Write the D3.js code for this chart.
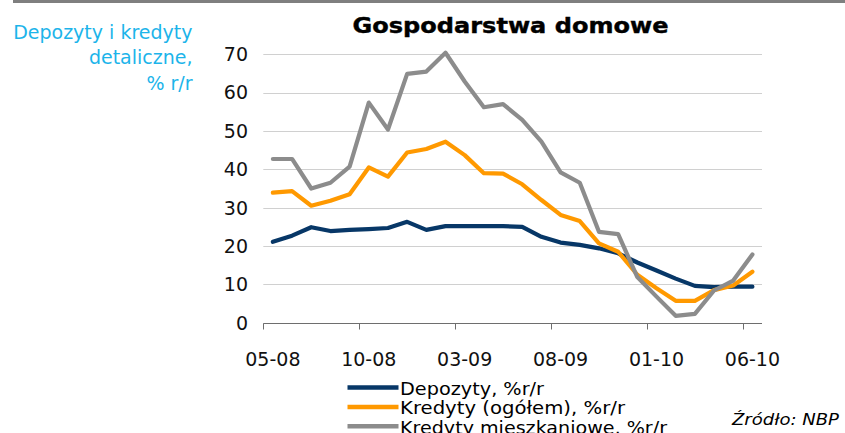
<!DOCTYPE html>
<html>
<head>
<meta charset="utf-8">
<script src="https://cdn.jsdelivr.net/npm/d3@7"></script>
<style>
  body { margin: 0; background: #fff; }
  svg { display: block; }
  text { font-family: "DejaVu Sans", Verdana, sans-serif; }
</style>
</head>
<body>
<svg id="chart" width="845" height="433"></svg>
<script>
// months, MM-YY
var months = ["05-08", "06-08", "07-08", "08-08", "09-08", "10-08", "11-08", "12-08",
  "01-09", "02-09", "03-09", "04-09", "05-09", "06-09", "07-09", "08-09", "09-09",
  "10-09", "11-09", "12-09", "01-10", "02-10", "03-10", "04-10", "05-10", "06-10"];
var shownLabels = ["05-08", "10-08", "03-09", "08-09", "01-10", "06-10"];
var yTicks = [0, 10, 20, 30, 40, 50, 60, 70];

var depozyty = [21.1, 22.7, 24.9, 23.9, 24.2, 24.4, 24.7, 26.3, 24.2, 25.2, 25.2, 25.2, 25.2,
  25.0, 22.4, 20.9, 20.3, 19.4, 18.1, 15.7, 13.6, 11.5, 9.6, 9.3, 9.4, 9.4];
var kredyty = [33.9, 34.3, 30.5, 31.8, 33.5, 40.5, 38.1, 44.4, 45.3, 47.2, 43.7, 39.0, 38.9,
  36.1, 32.0, 28.1, 26.5, 20.7, 18.5, 12.5, 9.0, 5.7, 5.7, 8.5, 9.7, 13.3];
var mieszkaniowe = [42.7, 42.7, 35.0, 36.5, 40.7, 57.4, 50.4, 64.9, 65.5, 70.4, 62.9, 56.2, 57.0,
  52.9, 47.2, 39.2, 36.5, 23.7, 23.1, 11.9, 6.8, 1.8, 2.3, 8.4, 11.0, 17.8];

var seriesNames = ["Depozyty, %r/r", "Kredyty (ogółem), %r/r", "Kredyty mieszkaniowe, %r/r"];
var seriesColors = ["#073767", "#ff9900", "#8c8c8c"];
var legendWidths = [144, 225, 267];

var svg = d3.select("#chart");

// thin bar at the very top
svg.append("rect").attr("x", 13).attr("y", 0).attr("width", 832).attr("height", 3)
  .attr("fill", "#7f7f7f");

var x = d3.scaleBand().domain(months).range([263.3, 762]).paddingInner(0).paddingOuter(0);
var y = d3.scaleLinear().domain([0, 70]).range([322.7, 54.3]);
var cx = function(m) { return x(m) + x.bandwidth() / 2; };

// gridlines
svg.append("g").selectAll("line").data(yTicks.filter(function(d) { return d > 0; }))
  .enter().append("line")
  .attr("x1", 263.3).attr("x2", 762)
  .attr("y1", function(d) { return Math.round(y(d)) + 0.5; })
  .attr("y2", function(d) { return Math.round(y(d)) + 0.5; })
  .attr("stroke", "#d0d0d0").attr("stroke-width", 1);

// y labels
svg.append("g").selectAll("text").data(yTicks).enter().append("text")
  .attr("x", 248).attr("y", function(d) { return y(d); }).attr("dy", "0.36em")
  .attr("text-anchor", "end").attr("font-size", 19).attr("fill", "#111")
  .text(function(d) { return d; });

// x axis line and ticks between categories, every 5
var y0 = Math.round(y(0)) + 0.5;
svg.append("line").attr("x1", 263.3).attr("x2", 762).attr("y1", y0).attr("y2", y0)
  .attr("stroke", "#6e6e6e").attr("stroke-width", 1);
svg.append("g").selectAll("line").data(months.filter(function(m, i) { return i % 5 === 0; }))
  .enter().append("line")
  .attr("x1", function(m) { return Math.round(x(m)) + 0.5; })
  .attr("x2", function(m) { return Math.round(x(m)) + 0.5; })
  .attr("y1", y0).attr("y2", y0 + 6)
  .attr("stroke", "#6e6e6e").attr("stroke-width", 1);

svg.append("g").selectAll("text").data(shownLabels).enter().append("text")
  .attr("x", function(m) { return cx(m); }).attr("y", 366)
  .attr("text-anchor", "middle").attr("font-size", 19).attr("fill", "#111")
  .text(function(m) { return m; });

// lines
var line = d3.line()
  .x(function(d, i) { return cx(months[i]); })
  .y(function(d) { return y(d); });

[depozyty, kredyty, mieszkaniowe].forEach(function(vals, k) {
  svg.append("path").datum(vals).attr("d", line)
    .attr("fill", "none").attr("stroke", seriesColors[k]).attr("stroke-width", 4.2)
    .attr("stroke-linejoin", "round").attr("stroke-linecap", "round");
});

// title
svg.append("text").attr("x", 352.5).attr("y", 32.5)
  .attr("font-size", 21).attr("font-weight", "bold").attr("fill", "#000")
  .attr("textLength", 316).attr("lengthAdjust", "spacingAndGlyphs")
  .attr("stroke", "#000").attr("stroke-width", 0.4)
  .text("Gospodarstwa domowe");

// left caption
var caption = ["Depozyty i kredyty", "detaliczne,", "% r/r"];
svg.append("g").selectAll("text").data(caption).enter().append("text")
  .attr("x", 192.5).attr("y", function(d, i) { return 38.5 + i * 25.8; })
  .attr("text-anchor", "end").attr("font-size", 19).attr("fill", "#1cb4ea")
  .text(function(d) { return d; });

// legend
var legend = svg.append("g").selectAll("g").data(seriesNames).enter().append("g")
  .attr("transform", function(d, i) { return "translate(0," + (387.5 + i * 19.4) + ")"; });
legend.append("line").attr("x1", 347.5).attr("x2", 398.5).attr("y1", 0).attr("y2", 0)
  .attr("stroke", function(d, i) { return seriesColors[i]; }).attr("stroke-width", 4.5);
legend.append("text").attr("x", 400).attr("y", 7.5).attr("font-size", 18)
  .attr("textLength", function(d, i) { return legendWidths[i]; })
  .attr("lengthAdjust", "spacingAndGlyphs").attr("fill", "#000")
  .text(function(d) { return d; });

// source
svg.append("text").attr("x", 732).attr("y", 424.5)
  .attr("font-size", 16.5).attr("font-style", "italic").attr("fill", "#000")
  .attr("textLength", 107).attr("lengthAdjust", "spacingAndGlyphs")
  .text("Źródło: NBP");
</script>
</body>
</html>
